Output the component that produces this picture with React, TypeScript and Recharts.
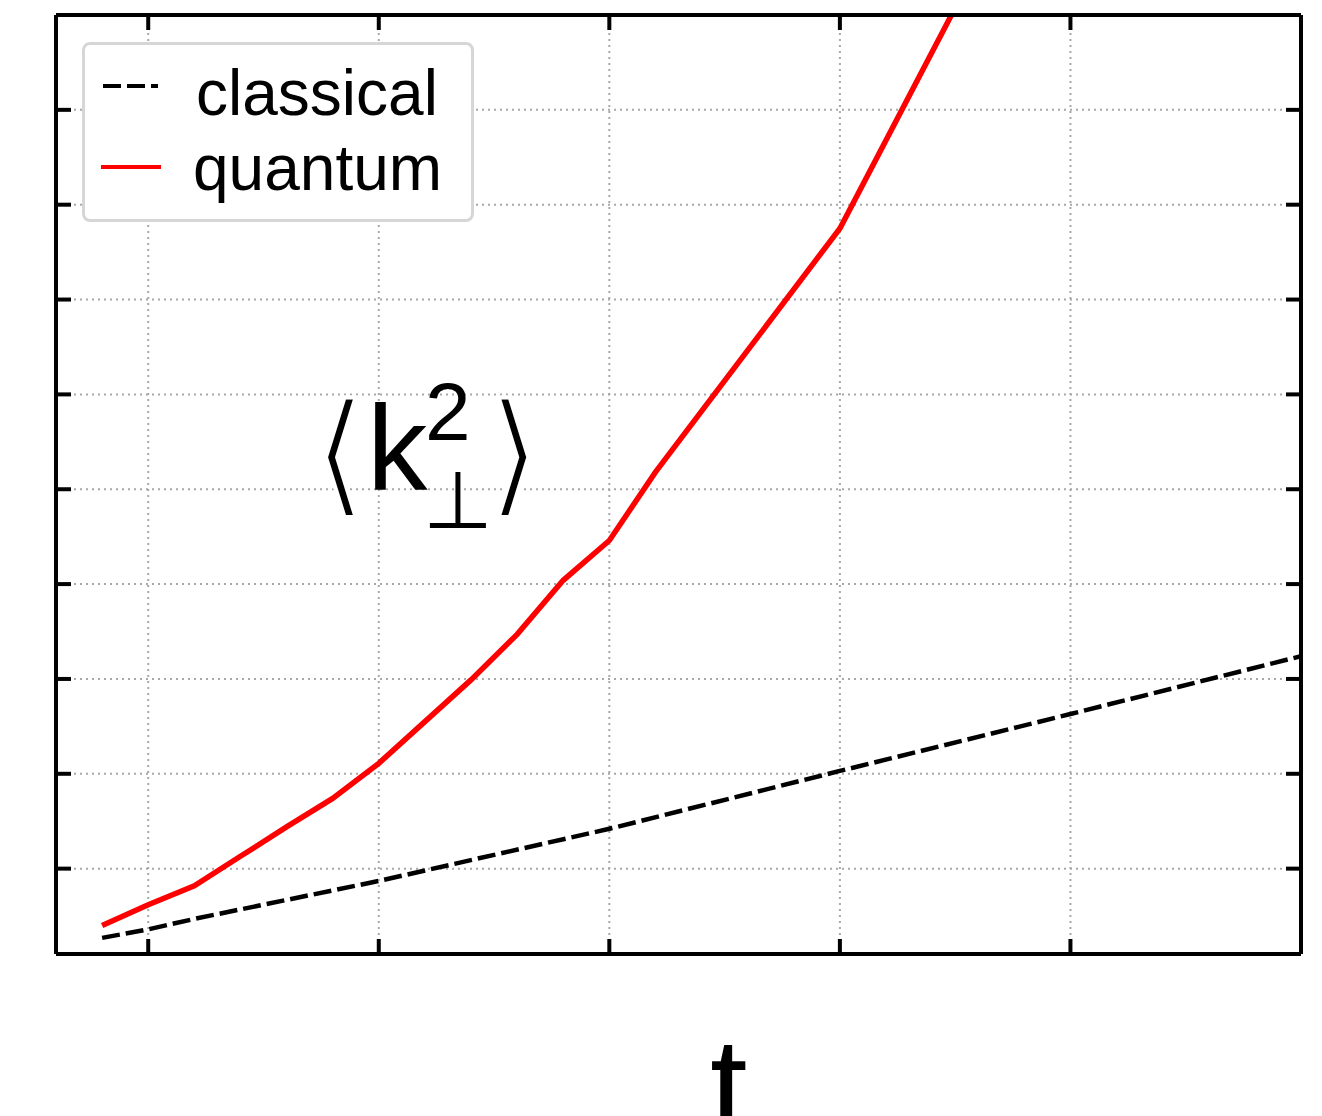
import React from 'react';
import { LineChart, Line, XAxis, YAxis, CartesianGrid, Legend, Customized } from 'recharts';

const tQuantum = [0.8, 1.0, 1.2, 1.4, 1.6, 1.8, 2.0, 2.2, 2.4, 2.6, 2.8, 3.0, 3.2, 4.0, 5.0];
const quantumValues = [0.4, 0.62, 0.82, 1.13, 1.44, 1.74, 2.11, 2.55, 2.99, 3.47, 4.04, 4.46, 5.18, 7.75, 12.4];

const tClassical = [0.8, 1.0, 1.2, 2.0, 3.0, 4.0, 5.0, 6.0];
const classicalValues = [0.27, 0.36, 0.47, 0.87, 1.42, 2.03, 2.63, 3.24];

const xTicks = [1, 2, 3, 4, 5];
const yTicks = [1, 2, 3, 4, 5, 6, 7, 8, 9];

const classicalData = tClassical.map((t, i) => ({ t, v: classicalValues[i] }));
const quantumData = tQuantum.map((t, i) => ({ t, v: quantumValues[i] }));

const FONT = '"Liberation Sans", Arial, sans-serif';
const DASH = '18 6';

const NoLabel = () => <g />;

const LegendBox = (props: any) => {
  const payload = props.payload || [];
  const rows = payload.map((e: any, i: number) => ({
    name: e.value,
    color: e.color,
    dash: e.payload && e.payload.strokeDasharray,
    i,
  }));
  return (
    <div
      style={{
        boxSizing: 'border-box',
        width: 392,
        height: 180,
        border: '3px solid #d6d6d6',
        borderRadius: 8,
        background: '#fff',
        position: 'relative',
      }}
    >
      <svg width={386} height={174} style={{ position: 'absolute', left: 0, top: 0 }}>
        {rows.map((r: any) => {
          const y = r.i === 0 ? 41 : 122;
          const base = r.i === 0 ? 70 : 145;
          const x1 = r.i === 0 ? 18 : 16;
          const x2 = r.i === 0 ? 73 : 76;
          const tx = r.i === 0 ? 111 : 108;
          return (
            <g key={r.name}>
              <line x1={x1} x2={x2} y1={y} y2={y} stroke={r.color} strokeWidth={4} strokeDasharray={r.dash} />
              <text x={tx} y={base} fontSize={64} fontFamily={FONT} fill="#000">
                {r.name}
              </text>
            </g>
          );
        })}
      </svg>
    </div>
  );
};

const BR = '"DejaVu Sans", sans-serif';

const Annotations = () => (
  <g>
    <text x={314} y={499} fontSize={134} fontFamily={BR} fill="#000" stroke="#fff" strokeWidth={4}>⟨</text>
    <text x={367} y={489} fontSize={121} fontFamily={FONT} fill="#000">k</text>
    <text x={425} y={440} fontSize={82} fontFamily={FONT} fill="#000">2</text>
    <text x={423} y={528} fontSize={80} fontFamily={BR} fill="#000">⊥</text>
    <text x={488} y={499} fontSize={134} fontFamily={BR} fill="#000" stroke="#fff" strokeWidth={4}>⟩</text>
    <text x={710} y={1133} fontSize={135} fontFamily={FONT} fill="#000">t</text>
  </g>
);

const axisCommon = {
  allowDataOverflow: true,
  mirror: true,
  tick: <NoLabel />,
  tickSize: 15,
  axisLine: { stroke: '#000', strokeWidth: 4 },
  tickLine: { stroke: '#000', strokeWidth: 4 },
};

export default function App() {
  return (
    <div
      style={{
        position: 'fixed',
        left: 0,
        top: 0,
        width: 1322,
        height: 1116,
        overflow: 'hidden',
        background: '#fff',
      }}
    >
      <LineChart width={1322} height={1116} margin={{ top: 15, right: 21, bottom: 162, left: 56 }}>
        <CartesianGrid
          stroke="#a8a8a8"
          strokeWidth={2}
          strokeDasharray="2 4"
          horizontalValues={yTicks}
          verticalValues={xTicks}
        />
        <XAxis dataKey="t" type="number" domain={[0.6, 6]} ticks={xTicks} height={1} {...axisCommon} />
        <XAxis
          xAxisId="top"
          orientation="top"
          dataKey="t"
          type="number"
          domain={[0.6, 6]}
          ticks={xTicks}
          height={1}
          {...axisCommon}
        />
        <YAxis type="number" domain={[0.1, 10]} ticks={yTicks} width={1} {...axisCommon} />
        <YAxis
          yAxisId="right"
          orientation="right"
          type="number"
          domain={[0.1, 10]}
          ticks={yTicks}
          width={1}
          {...axisCommon}
        />
        <Line
          data={classicalData}
          dataKey="v"
          name="classical"
          type="linear"
          stroke="#000000"
          strokeWidth={4.5}
          strokeDasharray={DASH}
          dot={false}
          activeDot={false}
          isAnimationActive={false}
        />
        <Line
          data={quantumData}
          dataKey="v"
          name="quantum"
          type="linear"
          stroke="#ff0000"
          strokeWidth={5.5}
          dot={false}
          activeDot={false}
          isAnimationActive={false}
        />
        <Legend
          layout="horizontal"
          verticalAlign="middle"
          align="center"
          content={<LegendBox />}
          wrapperStyle={{ left: 82, top: 42, width: 392, height: 180 }}
        />
        <Customized component={Annotations} />
      </LineChart>
    </div>
  );
}
